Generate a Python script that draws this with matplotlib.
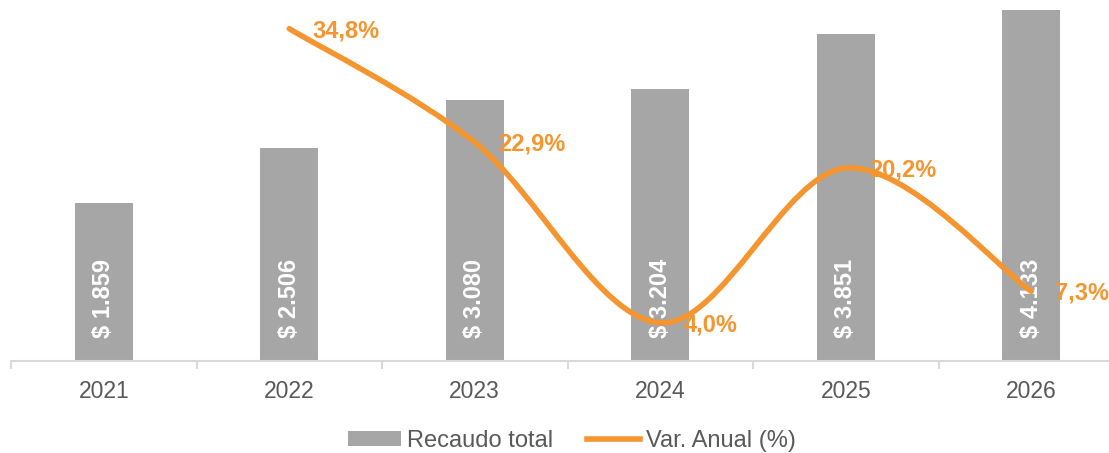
import numpy as np
import matplotlib
matplotlib.use("Agg")
import matplotlib.pyplot as plt
from matplotlib.path import Path
from matplotlib.patches import PathPatch, Patch
from matplotlib.lines import Line2D

plt.rcParams['font.family'] = ['Liberation Sans', 'DejaVu Sans']

years = ['2021', '2022', '2023', '2024', '2025', '2026']
recaudo = [1859, 2506, 3080, 3204, 3851, 4133]
bar_labels = ['$ 1.859', '$ 2.506', '$ 3.080', '$ 3.204', '$ 3.851', '$ 4.133']
var_years = [1, 2, 3, 4, 5]          # indices 2022..2026
var_anual = [34.8, 22.9, 4.0, 20.2, 7.3]
var_labels = ['34,8%', '22,9%', '4,0%', '20,2%', '7,3%']

GRAY = '#A6A6A6'
ORANGE = '#F5952F'
TXT = '#595959'

W, H = 1109, 453
fig = plt.figure(figsize=(W / 100, H / 100), dpi=100)
# axes spans the six category slots; the last slot runs past the right edge
ax = fig.add_axes([11 / W, 1 - 361 / H, 1113 / W, 361 / H])
x = np.arange(len(years))
ax.bar(x, recaudo, width=0.31, color=GRAY, zorder=2)
ax.set_xlim(-0.5, len(years) - 0.5)
ax.set_ylim(0, 4252)

for xi, lab in zip(x, bar_labels):
    ax.annotate(lab, (xi, 0), xytext=(0, 16.5), textcoords='offset points',
                rotation=90, ha='center', va='bottom', color='white',
                fontsize=17, fontweight='bold', zorder=5)

for s in ['top', 'right', 'left']:
    ax.spines[s].set_visible(False)
ax.spines['bottom'].set_color('#D9D9D9')
ax.spines['bottom'].set_linewidth(1.5)
ax.set_yticks([])
ax.set_xticks(x)
ax.set_xticklabels(years, fontsize=16.5, color=TXT)
ax.tick_params(axis='x', length=0, pad=14)
ax.set_xticks(np.arange(-0.5, len(years)), minor=True)
ax.tick_params(axis='x', which='minor', length=6, color='#D9D9D9', width=1.5)

ax2 = ax.twinx()
ax2.set_ylim(0, 37.8)
ax2.axis('off')

# smoothed line as cubic Bezier path (Catmull-Rom style control points)
px = np.array(var_years, dtype=float)
py = np.array(var_anual, dtype=float)
verts = [(px[0], py[0])]
codes = [Path.MOVETO]
n = len(px)
for i in range(n - 1):
    p0 = (px[max(i - 1, 0)], py[max(i - 1, 0)])
    p1 = (px[i], py[i])
    p2 = (px[i + 1], py[i + 1])
    p3 = (px[min(i + 2, n - 1)], py[min(i + 2, n - 1)])
    c1 = (p1[0] + (p2[0] - p0[0]) / 6, p1[1] + (p2[1] - p0[1]) / 6)
    c2 = (p2[0] - (p3[0] - p1[0]) / 6, p2[1] - (p3[1] - p1[1]) / 6)
    verts += [c1, c2, p2]
    codes += [Path.CURVE4] * 3
ax2.add_patch(PathPatch(Path(verts, codes), facecolor='none', edgecolor=ORANGE,
                        lw=4, capstyle='round', zorder=4))

for xi, yi, lab in zip(var_years, var_anual, var_labels):
    ax2.annotate(lab, (xi, yi), xytext=(17, -1.5), textcoords='offset points',
                 ha='left', va='center', color=ORANGE, fontsize=17,
                 fontweight='bold', zorder=6)

handles = [Patch(facecolor=GRAY, edgecolor='none'),
           Line2D([], [], color=ORANGE, lw=4)]
fig.legend(handles, ['Recaudo total', 'Var. Anual (%)'], loc='center',
           bbox_to_anchor=(572 / W, 1 - 441 / H), ncol=2, frameon=False,
           fontsize=17, labelcolor=TXT, handlelength=2.25, handleheight=0.6,
           handletextpad=0.25, columnspacing=1.45)

fig.savefig('out.png', dpi=100)
